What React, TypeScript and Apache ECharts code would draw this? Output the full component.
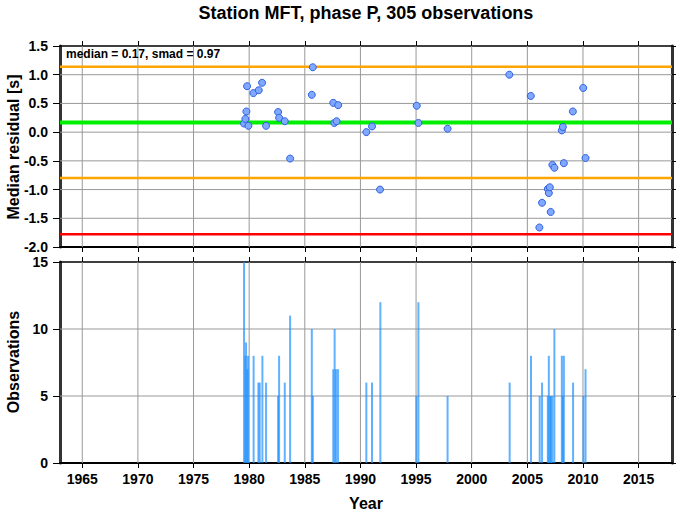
import React, { useEffect, useRef } from "react";
import * as echarts from "echarts";

const yearTicks = [1965, 1970, 1975, 1980, 1985, 1990, 1995, 2000, 2005, 2010, 2015];
const residualTicks = [-1.5, -1.0, -0.5, 0.0, 0.5, 1.0];
const countTicks = [5, 10];

const resYears = [
  1979.54, 1979.66, 1979.75, 1979.81, 1979.93, 1980.38, 1980.86, 1981.16, 1981.52,
  1982.6, 1982.69, 1983.2, 1983.68, 1985.63, 1985.72, 1987.56, 1987.65, 1987.86,
  1988.0, 1990.53, 1991.04, 1991.76, 1995.06, 1995.21, 1997.83, 2003.38, 2005.31,
  2006.08, 2006.32, 2006.84, 2006.93, 2007.02, 2007.1, 2007.25, 2007.43, 2008.1,
  2008.19, 2008.28, 2009.09, 2010.02, 2010.23,
];
const resValues = [
  0.15, 0.23, 0.36, 0.8, 0.11, 0.68, 0.73, 0.86, 0.11,
  0.35, 0.25, 0.19, -0.46, 0.65, 1.13, 0.51, 0.16, 0.19,
  0.47, 0.0, 0.1, -1.0, 0.46, 0.16, 0.06, 1.0, 0.63,
  -1.66, -1.23, -0.99, -1.06, -0.96, -1.39, -0.57, -0.62, 0.03,
  0.09, -0.54, 0.36, 0.77, -0.45,
];

const obsYears = [
  1979.54, 1979.66, 1979.72, 1979.84, 1979.9, 1980.4, 1980.83, 1980.95, 1981.19,
  1981.52, 1982.6, 1982.69, 1983.2, 1983.68, 1985.63, 1985.72, 1987.56, 1987.68,
  1987.8, 1987.98, 1990.53, 1991.04, 1991.79, 1995.03, 1995.21, 1997.83, 2003.41,
  2005.33, 2006.11, 2006.32, 2006.84, 2006.93, 2007.05, 2007.12, 2007.25, 2007.43,
  2008.1, 2008.19, 2008.28, 2009.11, 2010.04, 2010.23,
];
const obsCounts = [
  15, 8, 9, 7, 8, 8, 6, 6, 8,
  6, 5, 8, 6, 11, 10, 5, 7, 10,
  7, 7, 6, 6, 12, 5, 12, 5, 6,
  8, 5, 6, 5, 8, 5, 5, 5, 10,
  8, 5, 8, 6, 5, 7,
];

const median = 0.17;
const smad = 0.97;
const upperLine = 1.14;
const lowerLine = -0.8;
const limitLine = -1.78;

const titleText = "Station MFT, phase P, 305 observations";
const statsText = `median = ${median.toFixed(2)}, smad = ${smad.toFixed(2)}`;

export default function App() {
  const ref = useRef<HTMLDivElement>(null);
  useEffect(() => {
    const chart = echarts.init(ref.current!, null, { renderer: "svg" });
    const font = "'Liberation Sans', Arial, Helvetica, sans-serif";
    const gridColor = "#999999";
    const X0 = 1963;
    const X1 = 2018;
    const R0 = -2;
    const R1 = 1.5;
    const C0 = 0;
    const C1 = 15;

    const mkX = (gridIndex: number, position: string, labels: boolean, lw: number) => ({
      type: "value",
      gridIndex,
      position,
      min: X0,
      max: X1,
      axisLine: { show: true, onZero: false, lineStyle: { color: "#000", width: lw } },
      axisTick: {
        show: true,
        customValues: yearTicks,
        length: 5,
        inside: false,
        lineStyle: { color: "#000", width: 1 },
      },
      axisLabel: {
        show: labels,
        customValues: yearTicks,
        margin: 9,
        fontFamily: font,
        fontWeight: "bold",
        fontSize: 14,
        color: "#000",
        formatter: (v: number) => String(v),
      },
      splitLine: { show: false },
    });

    const mkY = (
      gridIndex: number,
      position: string,
      min: number,
      max: number,
      interval: number,
      labels: boolean,
      tickLen: number,
      fmt: (v: number) => string
    ) => ({
      type: "value",
      gridIndex,
      position,
      min,
      max,
      interval,
      axisLine: { show: true, onZero: false, lineStyle: { color: "#333", width: 3 } },
      axisTick: { show: true, length: tickLen, lineStyle: { color: "#000", width: 1 } },
      axisLabel: {
        show: labels,
        margin: 12,
        fontFamily: font,
        fontWeight: "bold",
        fontSize: 14,
        color: "#000",
        formatter: fmt,
      },
      splitLine: { show: false },
    });

    const gridSeries = (xi: number, yi: number, y0: number, y1: number, yTicks: number[]) => {
      const segs: number[][][] = [
        ...yearTicks.map((v) => [[v, y0], [v, y1]]),
        ...yTicks.map((v) => [[X0, v], [X1, v]]),
      ];
      return segs.map((seg) => ({
        type: "line",
        xAxisIndex: xi,
        yAxisIndex: yi,
        data: seg,
        symbol: "none",
        silent: true,
        z: 1,
        lineStyle: { color: gridColor, width: 1, type: "solid" },
      }));
    };

    const hLine = (v: number, color: string, width: number) => ({
      type: "line",
      xAxisIndex: 0,
      yAxisIndex: 0,
      data: [[X0, v], [X1, v]],
      symbol: "none",
      silent: true,
      z: 3,
      lineStyle: { color, width, type: "solid" },
    });

    chart.setOption({
      animation: false,
      grid: [
        { left: 60, top: 46, width: 612, height: 201 },
        { left: 60, top: 262, width: 612, height: 201 },
      ],
      xAxis: [
        mkX(0, "bottom", false, 2),
        mkX(0, "top", false, 1.5),
        mkX(1, "bottom", true, 2),
        mkX(1, "top", false, 1.5),
      ],
      yAxis: [
        mkY(0, "left", R0, R1, 0.5, true, 7, (v: number) => v.toFixed(1)),
        mkY(1, "left", C0, C1, 5, true, 7, (v: number) => String(v)),
        mkY(0, "right", R0, R1, 0.5, false, 4, (v: number) => v.toFixed(1)),
        mkY(1, "right", C0, C1, 5, false, 4, (v: number) => String(v)),
      ],
      series: [
        ...gridSeries(0, 0, R0, R1, residualTicks),
        ...gridSeries(2, 1, C0, C1, countTicks),
        hLine(upperLine, "#ffa500", 2.5),
        hLine(lowerLine, "#ffa500", 2.5),
        hLine(median, "#00ee00", 4),
        hLine(limitLine, "#ff0000", 2.5),
        {
          type: "scatter",
          xAxisIndex: 0,
          yAxisIndex: 0,
          z: 5,
          symbol: "circle",
          symbolSize: 7,
          itemStyle: { color: "#80a8ff", borderColor: "#3060e0", borderWidth: 1, opacity: 1 },
          data: resYears.map((x, i) => [x, resValues[i]]),
        },
        {
          type: "bar",
          xAxisIndex: 2,
          yAxisIndex: 1,
          z: 4,
          barWidth: 2,
          itemStyle: { color: "rgba(30,144,255,0.7)" },
          data: obsYears.map((x, i) => [x, obsCounts[i]]),
        },
      ],
      graphic: [
        {
          type: "text",
          x: 366,
          y: 13,
          style: {
            text: titleText,
            fontFamily: font,
            fontWeight: "bold",
            fontSize: 18,
            fill: "#000",
            textAlign: "center",
            textVerticalAlign: "middle",
          },
        },
        {
          type: "text",
          x: 66,
          y: 54,
          z: 10,
          style: {
            text: statsText,
            fontFamily: font,
            fontWeight: "bold",
            fontSize: 12,
            fill: "#000",
            textAlign: "left",
            textVerticalAlign: "middle",
          },
        },
        {
          type: "text",
          x: 13,
          y: 147,
          rotation: Math.PI / 2,
          style: {
            text: "Median residual [s]",
            fontFamily: font,
            fontWeight: "bold",
            fontSize: 16,
            fill: "#000",
            textAlign: "center",
            textVerticalAlign: "middle",
          },
        },
        {
          type: "text",
          x: 13,
          y: 362,
          rotation: Math.PI / 2,
          style: {
            text: "Observations",
            fontFamily: font,
            fontWeight: "bold",
            fontSize: 16,
            fill: "#000",
            textAlign: "center",
            textVerticalAlign: "middle",
          },
        },
        {
          type: "text",
          x: 366,
          y: 503,
          style: {
            text: "Year",
            fontFamily: font,
            fontWeight: "bold",
            fontSize: 16,
            fill: "#000",
            textAlign: "center",
            textVerticalAlign: "middle",
          },
        },
      ],
    });
    return () => chart.dispose();
  }, []);
  return (
    <div
      ref={ref}
      style={{ position: "fixed", left: 0, top: 0, width: 678, height: 511, background: "#fff" }}
    />
  );
}
